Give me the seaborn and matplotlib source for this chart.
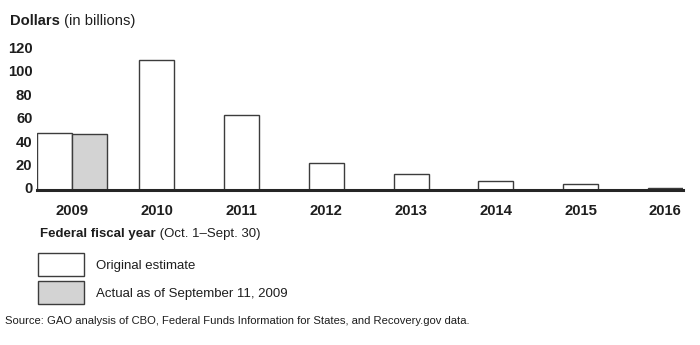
import matplotlib
matplotlib.use("Agg")
import matplotlib.pyplot as plt
import matplotlib.transforms as mtransforms
from matplotlib.patches import Patch
import pandas as pd
import seaborn as sns

# Recovery Act outlays to states and localities, by federal fiscal year
years = [2009, 2010, 2011, 2012, 2013, 2014, 2015, 2016]
original_estimate = [49, 111, 64, 23, 14, 8, 5, 1.5]
actual_years = [2009]
actual_values = [48]

series_original = "Original estimate"
series_actual = "Actual as of September 11, 2009"
y_ticks = [0, 20, 40, 60, 80, 100, 120]

sns.set_theme(style="white")
plt.rcParams["font.family"] = ["Liberation Sans", "DejaVu Sans"]

TEXT = "#1e1e1e"
EDGE = "#3c3c3c"
palette = {series_original: "white", series_actual: "#d3d3d3"}

# Bars for a year with both series sit side by side; single bars are centred
bar_w = 0.413
rows = []
for yr, val in zip(years, original_estimate):
    shift = -bar_w / 2 if yr in actual_years else 0.0
    rows.append({"pos": yr + shift, "value": val, "series": series_original})
for yr, val in zip(actual_years, actual_values):
    rows.append({"pos": yr + bar_w / 2, "value": val, "series": series_actual})
df = pd.DataFrame(rows)

W, H = 700, 345
fig = plt.figure(figsize=(W / 100, H / 100), dpi=100)
ax = fig.add_axes([37.2 / W, 155 / H, 645.6 / W, 140.4 / H])

sns.barplot(
    data=df, x="pos", y="value", hue="series",
    hue_order=[series_original, series_actual], palette=palette,
    native_scale=True, dodge=False, width=1.0, errorbar=None,
    edgecolor=EDGE, linewidth=1.0, legend=False, ax=ax,
)

ax.set_xlim(years[0] - bar_w, years[-1] + bar_w / 2)
ax.set_ylim(0, 120)
ax.set_xticks(years)
ax.set_xticklabels([str(y) for y in years])
ax.set_yticks(y_ticks)
ax.set_yticklabels([str(v) for v in y_ticks])
ax.set_xlabel("")
ax.set_ylabel("")
ax.grid(False)

for side in ("left", "right", "top"):
    ax.spines[side].set_visible(False)
ax.spines["bottom"].set_linewidth(2.2)
ax.spines["bottom"].set_color("#262626")

ax.tick_params(axis="x", length=0, pad=10, labelsize=10.7, labelcolor=TEXT)
ax.tick_params(axis="y", length=0, pad=3.4, labelsize=10.7, labelcolor=TEXT)
for lab in ax.get_xticklabels() + ax.get_yticklabels():
    lab.set_fontweight("bold")

# value labels sit a touch above their gridline positions
lift = mtransforms.ScaledTranslation(0, 2.2 / 100, fig.dpi_scale_trans)
for lab in ax.get_yticklabels():
    lab.set_transform(lab.get_transform() + lift)


def two_part(x_px, base_px, bold, rest, size):
    """Bold lead-in followed by regular text on the same baseline."""
    t = fig.text(x_px / W, 1 - base_px / H, bold, fontsize=size,
                 fontweight="bold", color=TEXT, ha="left", va="baseline")
    ax.annotate(rest, xy=(1, 0), xycoords=t, ha="left", va="bottom",
                fontsize=size, color=TEXT, annotation_clip=False)


two_part(10, 25, "Dollars", " (in billions)", 10.6)
two_part(40, 237, "Federal fiscal year", " (Oct. 1\u2013Sept. 30)", 9.5)

handles = [
    Patch(facecolor=palette[series_original], edgecolor=EDGE, linewidth=1.0),
    Patch(facecolor=palette[series_actual], edgecolor=EDGE, linewidth=1.0),
]
fs_px = 9.5 * 100 / 72
fig.legend(
    handles, [series_original, series_actual],
    loc="upper left", bbox_to_anchor=(38 / W, 1 - 253 / H),
    bbox_transform=fig.transFigure, frameon=False, fontsize=9.5,
    handlelength=46 / fs_px, handleheight=2.30, handletextpad=0.9,
    labelspacing=0.38, borderpad=0, borderaxespad=0, labelcolor=TEXT,
)

fig.text(5 / W, 1 - 323.5 / H,
         "Source: GAO analysis of CBO, Federal Funds Information for States, "
         "and Recovery.gov data.",
         fontsize=8.1, color=TEXT, ha="left", va="baseline")

fig.savefig("out.png", dpi=100, facecolor="white")
